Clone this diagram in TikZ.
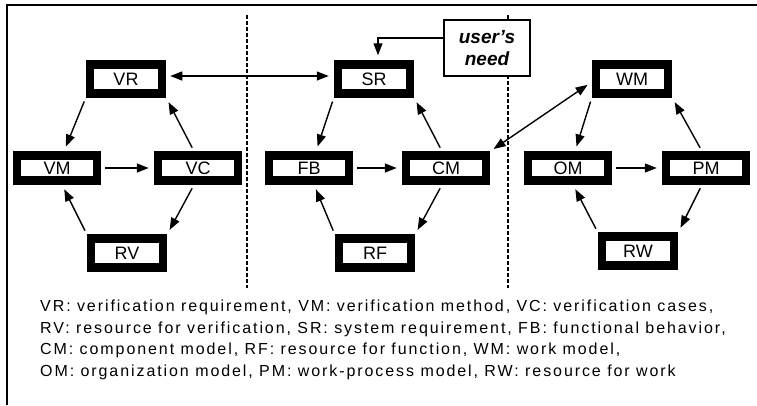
\documentclass[tikz,border=0pt]{standalone}
\usepackage{fontspec}
\setmainfont{Liberation Sans}
\newfontfamily\legendfont[LetterSpace=12]{Liberation Sans}
\usetikzlibrary{arrows.meta}

\tikzset{
	>={Triangle[length=12pt,width=9pt]},
	model/.style={draw=black,line width=8.5pt,fill=white,inner sep=0pt,font=\fontsize{18}{20}\selectfont},
	endbox/.style={model,minimum width=72pt,minimum height=29pt},
	midbox/.style={model,minimum width=80pt,minimum height=25pt},
	link/.style={black,line width=1.4pt,->,shorten >=5pt,shorten <=4pt},
	divider/.style={black,line width=1.3pt,dash pattern=on 4pt off 2pt},
	legend/.style={anchor=base west,inner sep=0pt,font=\legendfont\fontsize{16}{18}\selectfont},
}

\begin{document}
\begin{tikzpicture}[x=1pt,y=1pt]
	\useasboundingbox (0,0) rectangle (757,-405);
	\draw[line width=1.5pt] (757,-5) -- (7,-5) -- (7,-405);

	% dashed dividers
	\coordinate (d1top) at (247,-15);
	\coordinate (d1bot) at (247,-288);
	\coordinate (d2top) at (508,-15);
	\coordinate (d2bot) at (508,-288);
	\draw[divider] (d1top) -- (d1bot);
	\draw[divider] (d2top) -- (d2bot);

	% verification
	\node[endbox] (VR) at (126,-79) {VR};
	\node[midbox] (VM) at (57,-168) {VM};
	\node[midbox] (VC) at (198,-168) {VC};
	\node[endbox] (RV) at (127,-253) {RV};

	% system
	\node[endbox] (SR) at (374,-79) {SR};
	\node[midbox] (FB) at (309,-168) {FB};
	\node[midbox] (CM) at (446,-168) {CM};
	\node[endbox] (RF) at (375,-253) {RF};

	% work
	\node[endbox] (WM) at (632,-79) {WM};
	\node[midbox] (OM) at (568,-168) {OM};
	\node[midbox] (PM) at (706,-168) {PM};
	\node[endbox] (RW) at (638,-251) {RW};

	\node[draw=black,line width=1.3pt,fill=white,align=center,inner sep=0pt,
		minimum width=86pt,minimum height=56pt,
		font=\bfseries\itshape\fontsize{19}{22}\selectfont] (need) at (487,-48) {user's\\need};

	\foreach \t/\l/\r/\b in {VR/VM/VC/RV,SR/FB/CM/RF,WM/OM/PM/RW}{
		\draw[link] (\t.south west) -- ([xshift=7pt]\l.north);
		\draw[link] (\l.east) -- (\r.west);
		\draw[link] ([xshift=-4pt]\r.north) -- (\t.south east);
		\draw[link] ([xshift=-4pt]\r.south) -- (\b.north east);
		\draw[link] (\b.north west) -- ([xshift=5pt]\l.south);
	}

	\draw[link,<->] ([yshift=3pt]VR.east) -- ([yshift=3pt]SR.west);
	\draw[link,<->] (CM.north east) -- ([yshift=-3pt]WM.west);
	\draw[link,shorten <=0pt] ([yshift=10pt]need.west) -| ([xshift=4pt]SR.north);

	\node[legend] (leg1) at (40,-311) {VR: verification requirement, VM: verification method, VC: verification cases,};
	\node[legend] (leg2) at (40,-333) {RV: resource for verification, SR: system requirement, FB: functional behavior,};
	\node[legend] (leg3) at (40,-354) {CM: component model, RF: resource for function, WM: work model,};
	\node[legend] (leg4) at (40,-376) {OM: organization model, PM: work-process model, RW: resource for work};
\end{tikzpicture}
\end{document}
